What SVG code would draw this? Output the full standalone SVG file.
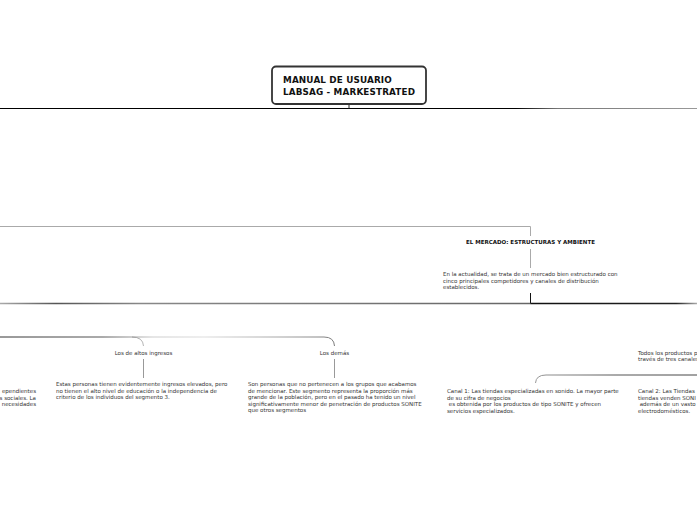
<svg xmlns="http://www.w3.org/2000/svg" width="697" height="520" viewBox="0 0 697 520">
<style>
.t{font-family:"DejaVu Sans",Verdana,sans-serif;font-size:5.5px;fill:#333}
.b{font-family:"DejaVu Sans",Verdana,sans-serif;font-weight:bold;fill:#111}
.c{fill:none;stroke-linecap:butt}
</style>
<defs>
<linearGradient id="g1" x1="0" y1="0" x2="697" y2="0" gradientUnits="userSpaceOnUse">
<stop offset="0" stop-color="#000"/><stop offset="0.74" stop-color="#000"/><stop offset="0.8" stop-color="#777"/><stop offset="1" stop-color="#999"/>
</linearGradient>
<linearGradient id="g2" x1="0" y1="0" x2="697" y2="0" gradientUnits="userSpaceOnUse">
<stop offset="0" stop-color="#aaa"/><stop offset="0.08" stop-color="#555"/><stop offset="0.2" stop-color="#888"/><stop offset="0.76" stop-color="#666"/><stop offset="0.762" stop-color="#111"/><stop offset="0.97" stop-color="#222"/><stop offset="1" stop-color="#aaa"/>
</linearGradient>
<linearGradient id="g3" x1="0" y1="0" x2="340" y2="0" gradientUnits="userSpaceOnUse">
<stop offset="0" stop-color="#333"/><stop offset="0.3" stop-color="#555"/><stop offset="0.45" stop-color="#ccc"/><stop offset="0.6" stop-color="#ddd"/><stop offset="1" stop-color="#777"/>
</linearGradient>
<linearGradient id="g4" x1="535" y1="0" x2="697" y2="0" gradientUnits="userSpaceOnUse">
<stop offset="0" stop-color="#999"/><stop offset="0.5" stop-color="#555"/><stop offset="1" stop-color="#444"/>
</linearGradient>
</defs>
<rect width="697" height="520" fill="#fff"/>
<g id="connectors">
<line class="c" x1="0" y1="108.5" x2="697" y2="108.5" stroke="url(#g1)" stroke-width="1.2"/>
<line class="c" x1="349" y1="104" x2="349" y2="108.5" stroke="#222" stroke-width="1"/>
<path class="c" d="M0 226.5 H530.5 V236" stroke="#aaa" stroke-width="1"/>
<line class="c" x1="530.5" y1="249" x2="530.5" y2="268" stroke="#aaa" stroke-width="1"/>
<line class="c" x1="530.5" y1="293" x2="530.5" y2="303" stroke="#111" stroke-width="1"/>
<line class="c" x1="0" y1="303.5" x2="697" y2="303.5" stroke="url(#g2)" stroke-width="1.4"/>
<path class="c" d="M0 337 H132 Q143 337 143.5 346 M132 337 H324 Q334 337 334.5 346" stroke="url(#g3)" stroke-width="1"/>
<line class="c" x1="143.5" y1="359" x2="143.5" y2="378" stroke="#999" stroke-width="1"/>
<line class="c" x1="334.5" y1="359" x2="334.5" y2="378" stroke="#999" stroke-width="1"/>
<path class="c" d="M697 375 H546 Q536 375 535.5 383" stroke="url(#g4)" stroke-width="1"/>
</g>
<g id="root">
<rect x="272" y="66.5" width="154" height="37.5" rx="4" fill="#fff" stroke="#333" stroke-width="1.8"/>
<text class="b" font-size="8.8" letter-spacing="0.15" x="283" y="83">MANUAL DE USUARIO</text>
<text class="b" font-size="8.8" letter-spacing="0.15" x="283" y="95">LABSAG - MARKESTRATED</text>
</g>
<g id="mercado">
<text class="b" font-size="5.5" x="530.5" y="244" text-anchor="middle">EL MERCADO: ESTRUCTURAS Y AMBIENTE</text>
</g>
<g id="mercado-desc">
<text class="t" x="443" y="276">En la actualidad, se trata de un mercado bien estructurado con</text>
<text class="t" x="443" y="282.5">cinco principales competidores y canales de distribución</text>
<text class="t" x="443" y="289">establecidos.</text>
</g>
<g id="left-desc">
<text class="t" x="36" y="393" text-anchor="end">ependientes</text>
<text class="t" x="36" y="399.5" text-anchor="end">s sociales. La</text>
<text class="t" x="36" y="406" text-anchor="end">necesidades</text>
</g>
<g id="altos">
<text class="t" x="143.5" y="354.5" text-anchor="middle">Los de altos ingresos</text>
</g>
<g id="altos-desc">
<text class="t" x="56" y="386">Estas personas tienen evidentemente ingresos elevados, pero</text>
<text class="t" x="56" y="392.5">no tienen el alto nivel de educación o la independencia de</text>
<text class="t" x="56" y="399">criterio de los individuos del segmento 3.</text>
</g>
<g id="demas">
<text class="t" x="334.5" y="354.5" text-anchor="middle">Los demás</text>
</g>
<g id="demas-desc">
<text class="t" x="248" y="386">Son personas que no pertenecen a los grupos que acabamos</text>
<text class="t" x="248" y="392.5">de mencionar. Este segmento representa la proporción más</text>
<text class="t" x="248" y="399">grande de la población, pero en el pasado ha tenido un nivel</text>
<text class="t" x="248" y="405.5">significativamente menor de penetración de productos SONITE</text>
<text class="t" x="248" y="412">que otros segmentos</text>
</g>
<g id="canales">
<text class="t" x="638" y="354.5">Todos los productos p</text>
<text class="t" x="638" y="361">través de tres canales</text>
</g>
<g id="canal1">
<text class="t" x="447" y="393">Canal 1: Las tiendas especializadas en sonido. La mayor parte</text>
<text class="t" x="447" y="399.5">de su cifra de negocios</text>
<text class="t" x="447" y="406" xml:space="preserve"> es obtenida por los productos de tipo SONITE y ofrecen</text>
<text class="t" x="447" y="412.5">servicios especializados.</text>
</g>
<g id="canal2">
<text class="t" x="638" y="393">Canal 2: Las Tiendas</text>
<text class="t" x="638" y="399.5">tiendas venden SONI</text>
<text class="t" x="638" y="406" xml:space="preserve"> además de un vasto</text>
<text class="t" x="638" y="412.5">electrodomésticos.</text>
</g>
</svg>
